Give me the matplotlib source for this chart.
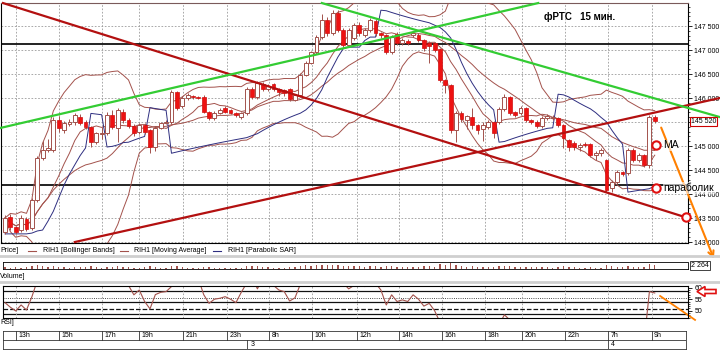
import numpy as np
import pandas as pd
import matplotlib
matplotlib.use('Agg')
import matplotlib.pyplot as plt
from matplotlib.lines import Line2D
from matplotlib.patches import Polygon
from matplotlib.ticker import MultipleLocator, FuncFormatter, FixedLocator
import matplotlib.transforms as mtrans

plt.rcParams['font.family'] = ['Liberation Sans Narrow', 'Liberation Sans', 'DejaVu Sans']

# ---- data: RIH1, 15 min candles ----
opens = [143210, 143520, 143310, 143250, 143480, 143290, 143870, 144750, 144920, 144920,
         145540, 145330, 145460, 145500, 145600, 145500, 145400, 145080, 145250, 145270,
         145650, 145380, 145710, 145540, 145420, 145290, 145440, 145330, 144980, 145380,
         145480, 145500, 146130, 145830, 146000, 146030, 146020, 146020, 145710, 145580,
         145690, 145790, 145750, 145690, 145600, 145690, 146190, 146020, 146290, 146190,
         146290, 146190, 146170, 146190, 145960, 146060, 146480, 146730, 146960, 147270,
         147630, 147350, 147770, 147420, 147100, 147250, 147520, 147310, 147420, 147600,
         147350, 147310, 146960, 147330, 147150, 147190, 147310, 147310, 147210, 147150,
         147150, 147020, 146380, 146270, 145330, 145690, 145540, 145600, 145440, 145350,
         145400, 145500, 145500, 145770, 146020, 145710, 145690, 145790, 145540, 145500,
         145420, 145580, 145580, 145580, 145440, 145130, 145060, 144980, 145040, 145040,
         144810, 144850, 144710, 144130, 144250, 144460, 144440, 144920, 144710, 144810,
         144600, 145600]
highs = [143560, 143580, 143330, 143560, 143530, 143920, 144800, 145100, 145150, 145600,
         145620, 145520, 145560, 145680, 145660, 145540, 145420, 145300, 145400, 145700,
         145750, 145800, 145780, 145580, 145460, 145480, 145480, 145350, 145420, 145500,
         145540, 146170, 146150, 146040, 146100, 146060, 146040, 146060, 145730, 145720,
         145800, 145830, 145770, 145700, 145710, 146230, 146230, 146350, 146330, 146290,
         146310, 146200, 146190, 146210, 146090, 146520, 146770, 146990, 147310, 147760,
         147690, 147830, 147830, 147450, 147460, 147560, 147580, 147460, 147670, 147640,
         147380, 147340, 147310, 147370, 147250, 147220, 147390, 147350, 147230, 147180,
         147170, 147040, 146400, 146290, 145720, 145720, 145650, 145790, 145460, 145500,
         145540, 145520, 145810, 146080, 146040, 145730, 145830, 145810, 145560, 145540,
         145620, 145660, 145640, 145610, 145460, 145150, 145100, 145060, 145080, 145060,
         144900, 144960, 144730, 144290, 144500, 144480, 144960, 144950, 144850, 144830,
         145640, 145650]
lows = [143170, 143250, 143170, 143200, 143230, 143250, 143830, 144700, 144880, 144880,
        145300, 145270, 145420, 145440, 145440, 145350, 144980, 145040, 145150, 145230,
        145350, 145080, 145480, 145380, 145200, 145250, 145250, 144850, 144900, 145350,
        145450, 145450, 145750, 145800, 145950, 145990, 145980, 145680, 145550, 145550,
        145660, 145680, 145660, 145600, 145560, 145650, 145980, 145990, 146150, 146150,
        146150, 146050, 146050, 145940, 145930, 146030, 146450, 146700, 146920, 147230,
        147300, 147310, 147380, 147060, 147060, 147200, 147300, 147270, 147380, 147300,
        147260, 146920, 146920, 147100, 147100, 147100, 147270, 147170, 146980, 146730,
        146960, 146330, 146100, 145270, 145080, 145500, 145350, 145350, 145250, 145100,
        145350, 145170, 145460, 145730, 145650, 145600, 145650, 145500, 145460, 145370,
        145380, 145550, 145550, 145400, 144960, 144900, 144920, 144900, 144980, 144770,
        144700, 144800, 144040, 144040, 144210, 144380, 144400, 144670, 144670, 144560,
        144550, 145480]
closes = [143500, 143310, 143210, 143500, 143270, 143870, 144750, 144920, 144960, 145540,
          145370, 145480, 145500, 145650, 145480, 145400, 145080, 145270, 145260, 145650,
          145400, 145750, 145540, 145420, 145270, 145440, 145290, 144980, 145380, 145480,
          145500, 146130, 145790, 146000, 146060, 146020, 146010, 145710, 145580, 145690,
          145750, 145710, 145690, 145650, 145690, 146190, 146020, 146310, 146190, 146250,
          146190, 146130, 146100, 145980, 146060, 146480, 146730, 146960, 147270, 147630,
          147350, 147770, 147420, 147100, 147420, 147520, 147350, 147420, 147630, 147350,
          147310, 146960, 147270, 147150, 147210, 147150, 147350, 147210, 147040, 147080,
          147000, 146380, 146270, 145330, 145690, 145560, 145620, 145440, 145330, 145440,
          145500, 145270, 145770, 146020, 145690, 145650, 145790, 145540, 145500, 145420,
          145580, 145620, 145600, 145440, 145170, 144980, 144980, 145020, 145020, 144810,
          144850, 144920, 144080, 144250, 144460, 144420, 144920, 144710, 144810, 144600,
          145600, 145520]
volume = [900, 700, 800, 600, 900, 1400, 2100, 1500, 900, 1300,
          1100, 800, 700, 900, 800, 1000, 1600, 900, 700, 1000,
          1200, 1300, 900, 800, 700, 600, 900, 1400, 1200, 700,
          500, 1600, 1300, 800, 700, 500, 500, 1100, 900, 700,
          700, 600, 600, 500, 600, 1700, 1300, 1500, 900, 800,
          700, 700, 600, 900, 800, 1800, 2000, 1700, 1900, 2300,
          1900, 2000, 2100, 1800, 1500, 1300, 1400, 1200, 1300, 1500,
          1000, 1700, 1400, 1200, 1000, 900, 1100, 1200, 1500, 1300,
          1100, 2600, 1900, 3000, 2200, 1300, 1000, 1300, 1100, 1000,
          900, 1100, 1400, 1500, 1300, 900, 1000, 1100, 800, 900,
          800, 900, 700, 800, 1400, 1000, 800, 700, 600, 900,
          700, 600, 2200, 1300, 1200, 800, 1500, 1100, 900, 1000,
          2800, 2264]
rsi = [53.5, 51.5, 49.9, 52.5, 50.3, 56, 63,
       66, 70, 72, 74, 72, 70, 71, 72, 70, 68, 66, 65, 67, 68, 64, 66,
       61, 56.9, 59, 54, 50.8, 57, 58, 58.3, 60.5,
       68, 64, 65, 66, 64,
       57, 53.2, 55, 55.4, 56.1, 55, 53.5, 58,
       62, 65, 59.5, 64,
       63, 61, 59, 58.3, 54.2, 55.6, 61.5,
       66, 70, 73, 76, 78, 74, 77,
       62, 59.5, 61, 61, 60.5, 61, 62, 59,
       52.5, 56.9, 54, 54.7, 54, 56.9, 55, 52, 53.2, 50,
       45, 38, 36, 28, 35, 34, 37, 35, 33, 36, 38,
       44, 48.2, 46,
       42, 40, 41, 38, 37, 36, 39, 40, 40, 38, 33, 30, 31, 32, 33, 30, 31, 32, 25, 28,
       32, 32, 40, 37, 36,
       58.3, 57.7]

hour_labels = ['13h', '15h', '17h', '19h', '21h', '23h', '8h', '10h', '12h', '14h',
               '16h', '18h', '20h', '22h', '7h', '9h']
hour_pos = [2.05, 10.06, 18.0, 25.0, 33.2, 41.3, 49.2, 57.2, 65.5, 73.4,
            81.3, 89.4, 96.3, 104.3, 112.3, 120.4]
day_labels = ['3', '4']
day_pos = [45.1, 112.3]

# trend lines drawn by the trader: (index, price) -> (index, price)
red_lines = [((-0.37, 147979), (127.2, 143500)),
             ((13.0, 143000), (133.1, 146000))]
green_lines = [((-0.93, 145375), (99.3, 147979)),
               ((59.0, 147979), (133.1, 145604))]
black_levels = [147135, 144188]
marks = [(121.2, 145021, 'MA'), (121.2, 144125, 'параболик'), (126.8, 143521, '')]
last_price = 145520
rsi_levels = [58.7, 55.4, 53.7, 50.8, 48.6]
rsi_styles = ['-', ':', '-', '--', '-']

W, H = 720, 351


def box(x0, y0, x1, y1):
    return [x0 / W, 1 - y1 / H, (x1 - x0) / W, (y1 - y0) / H]


def idx(px):
    return (px - 5) / 5.37


def psar(hi, lo, step=0.02, amax=0.2):
    n = len(hi)
    out = np.zeros(n)
    bull = True
    af = step
    ep = hi[0]
    out[0] = lo[0]
    for i in range(1, n):
        s = out[i - 1] + af * (ep - out[i - 1])
        if bull:
            s = min(s, lo[i - 1], lo[max(i - 2, 0)])
            if lo[i] < s:
                bull, s, ep, af = False, ep, lo[i], step
            elif hi[i] > ep:
                ep, af = hi[i], min(af + step, amax)
        else:
            s = max(s, hi[i - 1], hi[max(i - 2, 0)])
            if hi[i] > s:
                bull, s, ep, af = True, ep, hi[i], step
            elif lo[i] < ep:
                ep, af = lo[i], min(af + step, amax)
        out[i] = s
    return out


def price_fmt(v, pos):
    # the last-price box covers this label on the terminal
    if int(v) == 145500:
        return ''
    return f'{int(v):,}'.replace(',', ' ')


o = np.array(opens); h = np.array(highs); l = np.array(lows); c = np.array(closes)
x = np.arange(len(c))
cl = pd.Series(c, dtype=float)
mid = cl.rolling(20, min_periods=1).mean()
sd = cl.rolling(20, min_periods=1).std(ddof=0)
ma = cl.rolling(9, min_periods=1).mean()
sar = psar(h, l)

brown = '#a3524c'
fig = plt.figure(figsize=(7.2, 3.51), dpi=100)
fig.patch.set_facecolor('white')

# ---- price panel ----
ax = fig.add_axes(box(1, 3, 688, 243))
ax.set_xlim(idx(1), idx(688))
ax.set_ylim(142980, 147980)
ax.xaxis.set_major_locator(FixedLocator(hour_pos))
ax.yaxis.set_major_locator(MultipleLocator(500))
ax.yaxis.set_minor_locator(MultipleLocator(100))
ax.grid(True, which='major', ls=(0, (2, 2)), color='#9a9a9a', lw=0.6)
ax.yaxis.tick_right()
ax.yaxis.set_major_formatter(FuncFormatter(price_fmt))
ax.tick_params(axis='x', length=0, labelbottom=False)
ax.tick_params(axis='y', which='major', length=3, width=0.6, labelsize=5, pad=1.5)
ax.tick_params(axis='y', which='minor', length=1.5, width=0.5)
for sp in ax.spines.values():
    sp.set_linewidth(0.8)
ax.spines['top'].set_color('#7a5a5a')

for lev in black_levels:
    ax.axhline(lev, color='#111111', lw=1.3, zorder=2)

ax.plot(x, mid + 2 * sd, color=brown, lw=0.7, zorder=3)
ax.plot(x, mid - 2 * sd, color=brown, lw=0.7, zorder=3)
ax.plot(x, mid, color=brown, lw=0.7, zorder=3)
ax.plot(x, ma, color=brown, lw=0.7, zorder=3)
ax.plot(x, sar, color='#2e2e80', lw=0.7, zorder=3)

up = c >= o
ax.vlines(x, l, h, color=brown, lw=0.7, zorder=4)
bot = np.minimum(o, c)
hgt = np.maximum(np.abs(c - o), 15)
ax.bar(x[up], hgt[up], bottom=bot[up], width=0.72, facecolor='white',
       edgecolor=brown, lw=0.7, zorder=5)
ax.bar(x[~up], hgt[~up], bottom=bot[~up], width=0.72, facecolor='#ee1111',
       edgecolor='#d01010', lw=0.5, zorder=5)

for (x0, y0), (x1, y1) in red_lines:
    ax.plot([x0, x1], [y0, y1], color='#b31010', lw=1.6, zorder=6, clip_on=False)
for (x0, y0), (x1, y1) in green_lines:
    ax.plot([x0, x1], [y0, y1], color='#33cc33', lw=1.6, zorder=6, clip_on=False)

ax.annotate('', xy=(132.2, 142600), xytext=(122.0, 145438), annotation_clip=False,
            arrowprops=dict(arrowstyle='->', color='#ff8000', lw=1.5), zorder=7)

for mx, my, txt in marks:
    ax.plot(mx, my, 'o', ms=6, mfc='white', mec='#e01010', mew=1.5, zorder=8, clip_on=False)
    if txt:
        ax.text(mx + 1.4, my, txt, fontsize=7.5, va='center', ha='left',
                family=['Liberation Sans', 'DejaVu Sans'], zorder=10,
                bbox=dict(boxstyle='square,pad=0.05', fc='white', ec='none', alpha=0.6))

ax.text(0.79, 0.94, 'фРТС   15 мин.', transform=ax.transAxes, fontsize=7,
        fontweight='bold', family=['Liberation Sans', 'DejaVu Sans'], va='center')

bt = mtrans.blended_transform_factory(ax.transAxes, ax.transData)
ax.text(1.004, last_price, '145 520', transform=bt, fontsize=5, va='center', ha='left',
        bbox=dict(boxstyle='square,pad=0.15', fc='white', ec='#cc0000', lw=0.8), zorder=9)

# ---- legend row ----
ly = 1 - 251 / H
fig.text(0 / W, ly, 'Price]', fontsize=5, va='center')
for sx, tx, col, lab in [(28, 43, brown, 'RIH1 [Bollinger Bands]'),
                         (120, 134, brown, 'RIH1 [Moving Average]'),
                         (213, 228, '#2e2e80', 'RIH1 [Parabolic SAR]')]:
    fig.add_artist(Line2D([sx / W, (sx + 8) / W], [ly, ly], color=col, lw=0.8))
    fig.text(tx / W, ly, lab, fontsize=5, va='center')

for gy in (256, 282):
    fig.add_artist(Line2D([0, 1], [1 - gy / H, 1 - gy / H], color='#cfcfcf', lw=2))

# ---- volume strip ----
av = fig.add_axes(box(3, 262, 688, 269))
av.set_xlim(idx(3), idx(688))
av.set_ylim(0, 3600)
av.bar(x, volume, width=0.25, color=brown)
av.set_xticks([])
av.set_yticks([])
for sp in av.spines.values():
    sp.set_linewidth(0.6)
av.spines['top'].set_linestyle((0, (2, 1)))
av.text(1.004, 0.5, '2 264', transform=av.transAxes, fontsize=5, va='center',
        bbox=dict(boxstyle='square,pad=0.15', fc='white', ec='#222222', lw=0.6))
fig.text(0, 1 - 276 / H, 'Volume]', fontsize=5, va='center')

# ---- RSI ----
ar = fig.add_axes(box(3, 286, 688, 318))
ar.set_xlim(idx(3), idx(688))
ar.set_ylim(46.83, 60.74)
for lev, st in zip(rsi_levels, rsi_styles):
    ar.axhline(lev, color='#111111', lw=0.9 if st != ':' else 0.6, ls=st)
for p in hour_pos:
    ar.axvline(p, color='#9a9a9a', lw=0.6, ls=(0, (2, 2)))
ar.plot(x, rsi, color=brown, lw=0.8)
ar.plot([122.0, 128.5], [56.4, 46.0], color='#ff8000', lw=1.3, clip_on=False)
ar.yaxis.tick_right()
ar.set_yticks([50, 55, 60])
ar.yaxis.set_minor_locator(MultipleLocator(1))
ar.tick_params(axis='y', which='major', length=3, width=0.6, labelsize=5, pad=1.5)
ar.tick_params(axis='y', which='minor', length=1.5, width=0.5)
ar.set_xticks([])
for sp in ar.spines.values():
    sp.set_linewidth(0.8)
fig.text(0, 1 - 322 / H, 'RSI]', fontsize=5, va='center')

arrow_px = [(697, 291.5), (705, 286.5), (705, 289.5), (716, 289.5),
            (716, 293.5), (705, 293.5), (705, 296.5)]
fig.add_artist(Polygon([(px / W, 1 - py / H) for px, py in arrow_px], closed=True,
                       fc='white', ec='#e01010', lw=1.2))

# ---- time axis ----
at = fig.add_axes(box(3, 331, 686, 349))
at.set_xlim(idx(3), idx(686))
at.set_ylim(0, 1)
at.set_xticks([])
at.set_yticks([])
at.axhline(0.5, color='#333333', lw=0.6)
for sp in at.spines.values():
    sp.set_linewidth(0.6)
    sp.set_color('#333333')
for p, lab in zip(hour_pos, hour_labels):
    at.plot([p, p], [0.5, 1], color='#333333', lw=0.6)
    at.text(p + 0.45, 0.75, lab, fontsize=5, va='center', ha='left')
for p, lab in zip(day_pos, day_labels):
    at.plot([p, p], [0, 0.5], color='#333333', lw=0.6)
    at.text(p + 0.6, 0.25, lab, fontsize=5, va='center', ha='left')

fig.savefig('out.png', dpi=100)
